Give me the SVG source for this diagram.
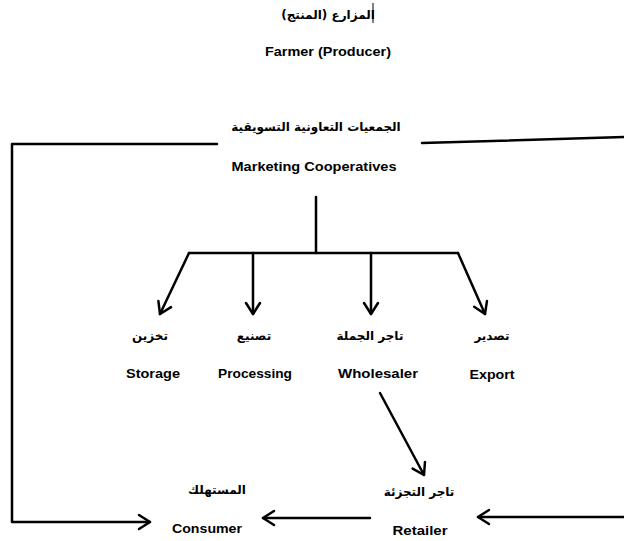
<svg xmlns="http://www.w3.org/2000/svg" width="624" height="541" viewBox="0 0 624 541">
<style>
.en{font-family:"Liberation Sans",Arial,sans-serif;font-weight:bold;font-size:13.5px;fill:#000;text-anchor:middle}
.ar{font-family:"DejaVu Sans","Noto Sans",sans-serif;font-weight:bold;font-size:12px;fill:#000;text-anchor:middle}
.ln{fill:none;stroke:#000;stroke-width:2.5;stroke-linecap:round;stroke-linejoin:round}
</style>
<defs>
<marker id="ah" markerUnits="userSpaceOnUse" markerWidth="24" markerHeight="24" refX="0" refY="0" viewBox="-14 -12 24 24" orient="auto">
<path d="M-11,-7 L0,0 L-11,7" fill="none" stroke="#000" stroke-width="2.5" stroke-linecap="round" stroke-linejoin="round"/>
</marker>
</defs>
<rect width="624" height="541" fill="#fff"/>
<g id="farmer">
<text class="ar" x="328" y="19" direction="rtl">المزارع (المنتج)</text>
<line x1="373" y1="3" x2="373" y2="23" stroke="#000" stroke-width="1"/>
<text class="en" x="328" y="56" textLength="126" lengthAdjust="spacingAndGlyphs">Farmer (Producer)</text>
</g>
<g id="cooperatives">
<text class="ar" x="316" y="131" direction="rtl">الجمعيات التعاونية التسويقية</text>
<text class="en" x="314" y="171" textLength="165" lengthAdjust="spacingAndGlyphs">Marketing Cooperatives</text>
</g>
<g id="storage">
<text class="ar" x="150" y="340" direction="rtl">تخزين</text>
<text class="en" x="153" y="378" textLength="54" lengthAdjust="spacingAndGlyphs">Storage</text>
</g>
<g id="processing">
<text class="ar" x="254" y="340" direction="rtl">تصنيع</text>
<text class="en" x="255" y="378" textLength="74" lengthAdjust="spacingAndGlyphs">Processing</text>
</g>
<g id="wholesaler">
<text class="ar" x="370" y="340" direction="rtl">تاجر الجملة</text>
<text class="en" x="378" y="378" textLength="80" lengthAdjust="spacingAndGlyphs">Wholesaler</text>
</g>
<g id="export">
<text class="ar" x="492" y="340" direction="rtl">تصدير</text>
<text class="en" x="492" y="379" textLength="45" lengthAdjust="spacingAndGlyphs">Export</text>
</g>
<g id="retailer">
<text class="ar" x="419" y="496" direction="rtl">تاجر التجزئة</text>
<text class="en" x="420" y="535" textLength="55" lengthAdjust="spacingAndGlyphs">Retailer</text>
</g>
<g id="consumer">
<text class="ar" x="217" y="494" direction="rtl">المستهلك</text>
<text class="en" x="207" y="533" textLength="70" lengthAdjust="spacingAndGlyphs">Consumer</text>
</g>
<g id="connectors">
<polyline class="ln" points="217,144 12,144 12,522 150,522" marker-end="url(#ah)"/>
<line class="ln" x1="422" y1="143" x2="624" y2="137"/>
<line class="ln" x1="316" y1="197" x2="316" y2="253"/>
<line class="ln" x1="189" y1="253" x2="458" y2="253"/>
<line class="ln" x1="189" y1="253" x2="160" y2="314" marker-end="url(#ah)"/>
<line class="ln" x1="253" y1="253" x2="253" y2="314" marker-end="url(#ah)"/>
<line class="ln" x1="371" y1="253" x2="371" y2="314" marker-end="url(#ah)"/>
<line class="ln" x1="458" y1="253" x2="485" y2="314" marker-end="url(#ah)"/>
<line class="ln" x1="380" y1="393" x2="424" y2="475" marker-end="url(#ah)"/>
<line class="ln" x1="370" y1="518" x2="263" y2="518" marker-end="url(#ah)"/>
<line class="ln" x1="624" y1="517" x2="478" y2="517" marker-end="url(#ah)"/>
</g>
</svg>
